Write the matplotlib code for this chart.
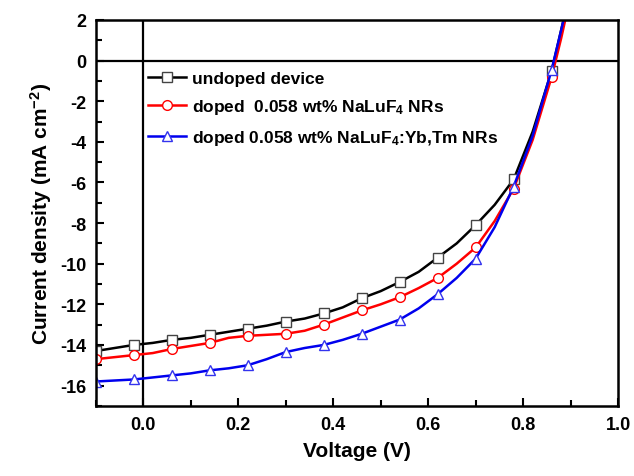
import matplotlib
matplotlib.use("Agg")
import matplotlib.pyplot as plt
from matplotlib.ticker import MultipleLocator

plt.rcParams["font.family"] = ["Liberation Sans", "DejaVu Sans"]
plt.rcParams["font.weight"] = "bold"
plt.rcParams["axes.unicode_minus"] = False
plt.rcParams["mathtext.fontset"] = "custom"
plt.rcParams["mathtext.bf"] = "Liberation Sans:bold"
plt.rcParams["mathtext.rm"] = "Liberation Sans:bold"
plt.rcParams["mathtext.default"] = "bf"

voltage = [-0.10, -0.06, -0.02, 0.02, 0.06, 0.10, 0.14, 0.18, 0.22, 0.26, 0.30, 0.34,
           0.38, 0.42, 0.46, 0.50, 0.54, 0.58, 0.62, 0.66, 0.70, 0.74, 0.78, 0.82,
           0.86, 0.88, 0.90]

undoped = [-14.3, -14.15, -14.0, -13.9, -13.75, -13.65, -13.5, -13.35, -13.2, -13.05,
           -12.85, -12.7, -12.45, -12.15, -11.7, -11.35, -10.9, -10.4, -9.7, -9.0,
           -8.1, -7.1, -5.85, -3.5, -0.5, 1.5, 3.5]
doped_nr = [-14.7, -14.6, -14.5, -14.4, -14.2, -14.05, -13.9, -13.65, -13.55, -13.5,
            -13.45, -13.3, -13.0, -12.65, -12.3, -12.0, -11.65, -11.2, -10.7, -10.0,
            -9.2, -7.9, -6.3, -3.9, -0.8, 1.1, 3.2]
doped_ybtm = [-15.8, -15.75, -15.7, -15.6, -15.5, -15.4, -15.25, -15.15, -15.0, -14.7,
              -14.35, -14.15, -14.0, -13.75, -13.45, -13.1, -12.75, -12.2, -11.5, -10.7,
              -9.75, -8.2, -6.2, -3.7, -0.45, 1.5, 3.5]

labels = ["undoped device",
          "doped  0.058 wt% NaLuF$_4$ NRs",
          "doped 0.058 wt% NaLuF$_4$:Yb,Tm NRs"]

fig = plt.figure(figsize=(6.34, 4.77), dpi=100)
ax = fig.add_axes([0.151, 0.147, 0.824, 0.809])

marks = list(range(0, 25, 2))
ax.plot(voltage, undoped, color="black", lw=1.8, marker="s", ms=6.5,
        mfc="white", mec="#444444", markevery=marks, label=labels[0])
ax.plot(voltage, doped_nr, color="red", lw=1.8, marker="o", ms=7,
        mfc="white", mec="red", markevery=marks, label=labels[1])
ax.plot(voltage, doped_ybtm, color="#0000ee", lw=1.8, marker="^", ms=7,
        mfc="white", mec="#3333ee", markevery=marks, label=labels[2])

ax.axhline(0, color="black", lw=1.6, zorder=0)
ax.axvline(0, color="black", lw=1.6, zorder=0)

ax.set_xlim(-0.1, 1.0)
ax.set_ylim(-17, 2)
ax.xaxis.set_major_locator(MultipleLocator(0.2))
ax.xaxis.set_minor_locator(MultipleLocator(0.1))
ax.yaxis.set_major_locator(MultipleLocator(2))
ax.yaxis.set_minor_locator(MultipleLocator(1))
ax.xaxis.set_major_formatter(plt.FuncFormatter(lambda x, _: f"{x:.1f}"))
ax.yaxis.set_major_formatter(plt.FuncFormatter(lambda y, _: f"{y:.0f}"))
ax.tick_params(which="both", direction="in", width=1.5, labelsize=13, pad=7)
ax.tick_params(which="major", length=6)
ax.tick_params(which="minor", length=4)
for s in ax.spines.values():
    s.set_linewidth(1.8)

ax.set_xlabel("Voltage (V)", fontsize=15, fontweight="bold", labelpad=6)
ax.set_ylabel("Current density (mA cm$^{-2}$)", fontsize=15, fontweight="bold", labelpad=4)

ax.legend(loc="upper left", bbox_to_anchor=(0.087, 0.887), frameon=False,
          prop={"size": 12.5, "weight": "bold"}, handlelength=2.2,
          handletextpad=0.3, labelspacing=0.68, borderaxespad=0)

fig.savefig("out.png", dpi=100)
